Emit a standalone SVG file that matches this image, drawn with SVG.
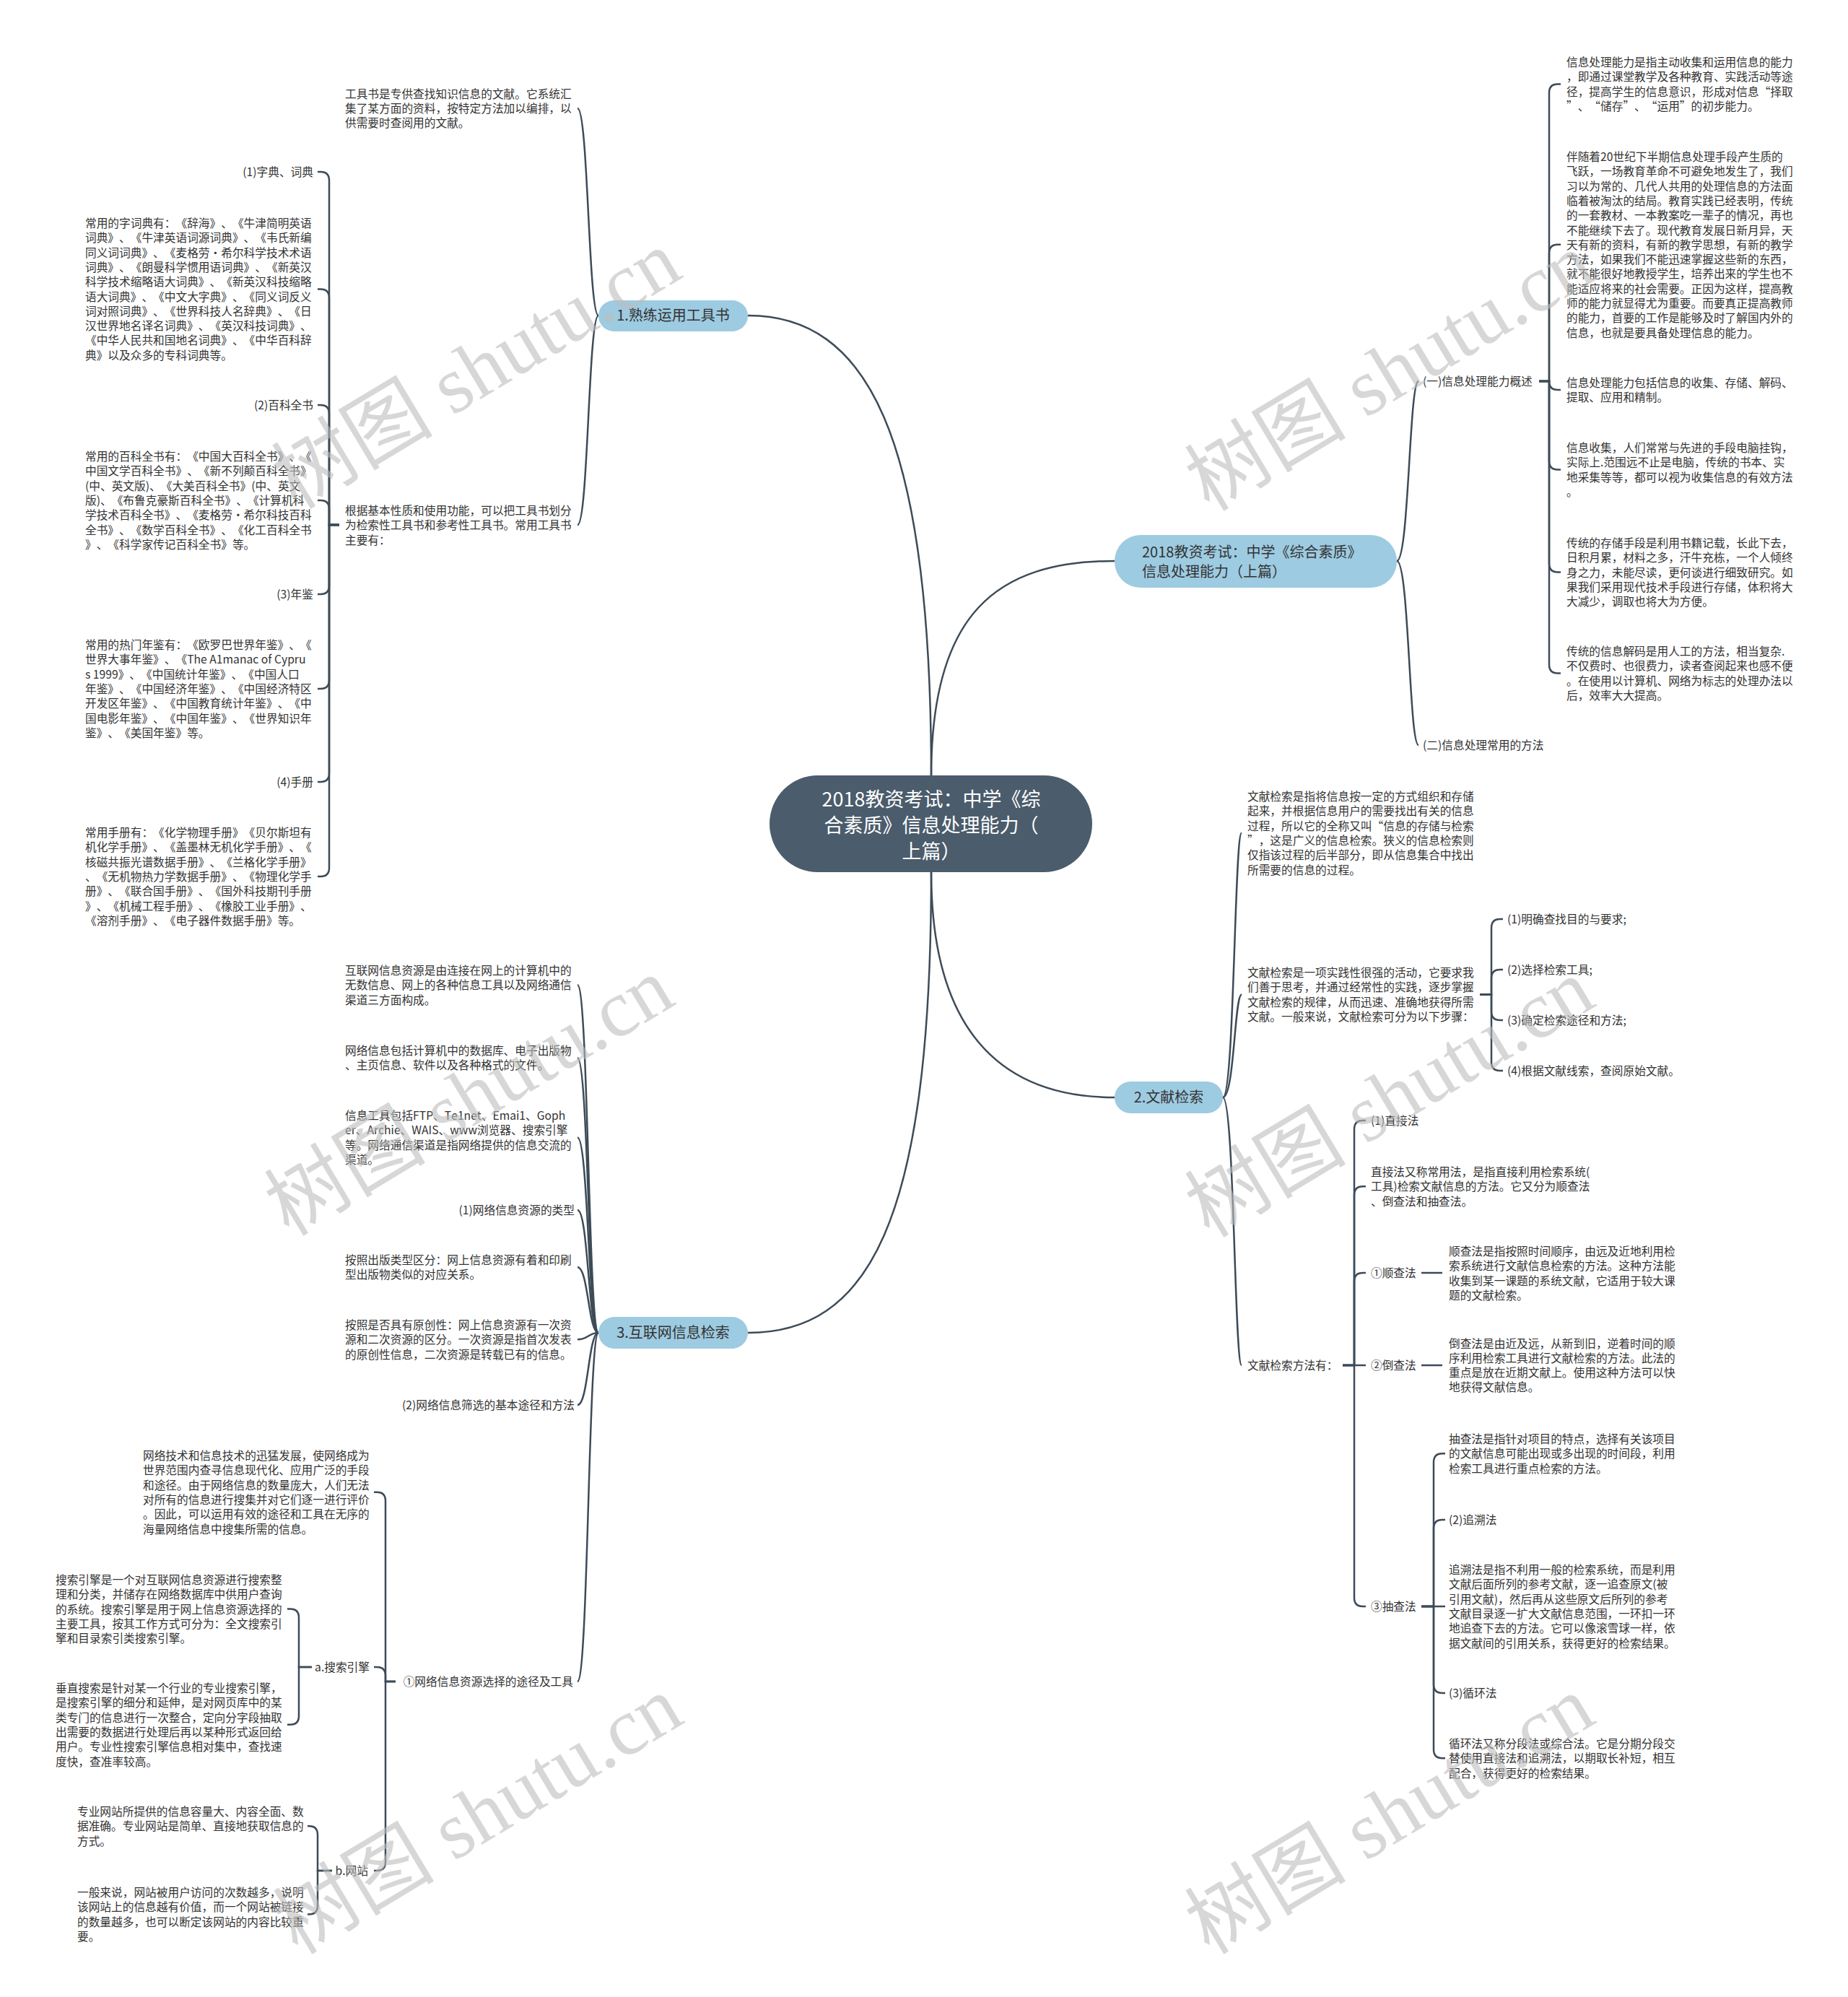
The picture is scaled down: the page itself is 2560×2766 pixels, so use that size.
<svg xmlns="http://www.w3.org/2000/svg" width="2560" height="2766" viewBox="0 0 2560 2766">
<style>
text{text-spacing-trim:space-all;font-kerning:none}
.t{font-family:"Noto Sans CJK SC","Noto Sans",sans-serif;font-size:15.7px;fill:#333;font-feature-settings:"chws" 0,"halt" 0,"palt" 0}
.r{text-anchor:end}
.bt{font-family:"Noto Sans CJK SC","Noto Sans",sans-serif;font-size:20px;fill:#333;font-feature-settings:"chws" 0}
.ct{font-family:"Noto Sans CJK SC","Noto Sans",sans-serif;font-size:27px;fill:#fff;text-anchor:middle;font-feature-settings:"chws" 0}
.ln{fill:none;stroke:#3d4b58;stroke-width:2.5}
.bn{fill:#9dcbe1}
.wm{font-family:"Liberation Serif","Noto Sans CJK SC",serif;font-size:112px;fill:#bdbdbd;fill-opacity:0.6;text-anchor:middle}
</style>
<rect width="2560" height="2766" fill="#fff"/>
<g id="connectors">
<path class="ln" d="M1290,1074 C1290,600 1200,437 1036,437"/>
<path class="ln" d="M1290,1074 C1290,850 1380,777 1544,777"/>
<path class="ln" d="M1290,1208 C1290,1420 1380,1520 1544,1520"/>
<path class="ln" d="M1290,1208 C1290,1700 1200,1846 1036,1846"/>
<path class="ln" d="M829,437 C815,437 815,150 800,150"/>
<path class="ln" d="M829,437 C815,437 815,727 800,727"/>
<path class="ln" d="M470,727 H456 V250 Q456,238 444,238 H440"/>
<path class="ln" d="M470,727 H456 V412.4 Q456,400.4 444,400.4 H440"/>
<path class="ln" d="M470,727 H456 V573 Q456,561 444,561 H440"/>
<path class="ln" d="M470,727 H456 V704.9 Q456,692.9 444,692.9 H440"/>
<path class="ln" d="M470,727 H456 V811 Q456,823 444,823 H440"/>
<path class="ln" d="M470,727 H456 V941.9 Q456,953.9 444,953.9 H440"/>
<path class="ln" d="M470,727 H456 V1071 Q456,1083 444,1083 H440"/>
<path class="ln" d="M470,727 H456 V1201.9 Q456,1213.9 444,1213.9 H440"/>
<path class="ln" d="M829,1846 C815,1846 815,1364.3 800,1364.3"/>
<path class="ln" d="M829,1846 C815,1846 815,1465.2 800,1465.2"/>
<path class="ln" d="M829,1846 C815,1846 815,1575.5 800,1575.5"/>
<path class="ln" d="M829,1846 C815,1846 815,1676 800,1676"/>
<path class="ln" d="M829,1846 C815,1846 815,1755.2 800,1755.2"/>
<path class="ln" d="M829,1846 C815,1846 815,1855.3 800,1855.3"/>
<path class="ln" d="M829,1846 C815,1846 815,1946 800,1946"/>
<path class="ln" d="M829,1846 C815,1846 815,2329 800,2329"/>
<path class="ln" d="M548,2329 H534 V2078.8 Q534,2066.8 522,2066.8 H518"/>
<path class="ln" d="M548,2329 H534 V2321 Q534,2309 522,2309 H518"/>
<path class="ln" d="M548,2329 H534 V2579 Q534,2591 522,2591 H518"/>
<path class="ln" d="M432,2309 H414 V2240.6 Q414,2228.6 402,2228.6 H398"/>
<path class="ln" d="M432,2309 H414 V2376.8 Q414,2388.8 402,2388.8 H398"/>
<path class="ln" d="M460,2591 H440 V2541.3 Q440,2529.3 428,2529.3 H426"/>
<path class="ln" d="M460,2591 H440 V2639.5 Q440,2651.5 428,2651.5 H426"/>
<path class="ln" d="M1935,777 C1952,777 1952,528 1965,528"/>
<path class="ln" d="M1935,777 C1952,777 1952,1032 1965,1032"/>
<path class="ln" d="M2132,528 H2146 V128.5 Q2146,116.5 2158,116.5 H2162"/>
<path class="ln" d="M2132,528 H2146 V350.8 Q2146,338.8 2158,338.8 H2162"/>
<path class="ln" d="M2132,528 H2146 Q2146,540 2158,540 H2162"/>
<path class="ln" d="M2132,528 H2146 V638.5 Q2146,650.5 2158,650.5 H2162"/>
<path class="ln" d="M2132,528 H2146 V780.6 Q2146,792.6 2158,792.6 H2162"/>
<path class="ln" d="M2132,528 H2146 V920.5 Q2146,932.5 2158,932.5 H2162"/>
<path class="ln" d="M1694,1520 C1710,1520 1710,1153.8 1720,1153.8"/>
<path class="ln" d="M1694,1520 C1710,1520 1710,1377.5 1720,1377.5"/>
<path class="ln" d="M1694,1520 C1710,1520 1710,1891 1720,1891"/>
<path class="ln" d="M2050,1377.5 H2066 V1285 Q2066,1273 2078,1273 H2082"/>
<path class="ln" d="M2050,1377.5 H2066 V1355 Q2066,1343 2078,1343 H2082"/>
<path class="ln" d="M2050,1377.5 H2066 V1401 Q2066,1413 2078,1413 H2082"/>
<path class="ln" d="M2050,1377.5 H2066 V1471 Q2066,1483 2078,1483 H2082"/>
<path class="ln" d="M1860,1891 H1876 V1564 Q1876,1552 1888,1552 H1892"/>
<path class="ln" d="M1860,1891 H1876 V1655.3 Q1876,1643.3 1888,1643.3 H1892"/>
<path class="ln" d="M1860,1891 H1876 V1775 Q1876,1763 1888,1763 H1892"/>
<path class="ln" d="M1860,1891 H1892"/>
<path class="ln" d="M1860,1891 H1876 V2213 Q1876,2225 1888,2225 H1892"/>
<path class="ln" d="M1969,1763 H1998"/>
<path class="ln" d="M1969,1891 H1998"/>
<path class="ln" d="M1969,2225 H1986 V2025.3 Q1986,2013.3 1998,2013.3 H2002"/>
<path class="ln" d="M1969,2225 H1986 V2117 Q1986,2105 1998,2105 H2002"/>
<path class="ln" d="M1969,2225 H2002"/>
<path class="ln" d="M1969,2225 H1986 V2333 Q1986,2345 1998,2345 H2002"/>
<path class="ln" d="M1969,2225 H1986 V2423.3 Q1986,2435.3 1998,2435.3 H2002"/>
</g>
<g id="center">
<rect x="1066" y="1074" width="447" height="134" rx="67" fill="#4b5c6c"/>
<text class="ct" x="1290" y="1117">2018教资考试：中学《综<tspan x="1290" dy="36">合素质》信息处理能力（</tspan><tspan x="1290" dy="36">上篇）</tspan></text>
</g>
<g id="b1">
<rect class="bn" x="829" y="416" width="207" height="43" rx="21.5"/>
<text class="bt" x="932.5" y="444" text-anchor="middle">1.熟练运用工具书</text>
</g>
<g id="b1-a"><text class="t" x="478" y="135.5">工具书是专供查找知识信息的文献。它系统汇<tspan x="478" dy="20.3">集了某方面的资料，按特定方法加以编排，以</tspan><tspan x="478" dy="20.3">供需要时查阅用的文献。</tspan></text></g>
<g id="b1-b"><text class="t" x="478" y="713">根据基本性质和使用功能，可以把工具书划分<tspan x="478" dy="20.3">为检索性工具书和参考性工具书。常用工具书</tspan><tspan x="478" dy="20.3">主要有：</tspan></text></g>
<g id="b1-b1"><text class="t r" x="434" y="244">(1)字典、词典</text></g>
<g id="b1-b2"><text class="t" x="118" y="315">常用的字词典有：《辞海》、《牛津简明英语<tspan x="118" dy="20.3">词典》、《牛津英语词源词典》、《韦氏新编</tspan><tspan x="118" dy="20.3">同义词词典》、《麦格劳•希尔科学技术术语</tspan><tspan x="118" dy="20.3">词典》、《朗曼科学惯用语词典》、《新英汉</tspan><tspan x="118" dy="20.3">科学技术缩略语大词典》、《新英汉科技缩略</tspan><tspan x="118" dy="20.3">语大词典》、《中文大字典》、《同义词反义</tspan><tspan x="118" dy="20.3">词对照词典》、《世界科技人名辞典》、《日</tspan><tspan x="118" dy="20.3">汉世界地名译名词典》、《英汉科技词典》、</tspan><tspan x="118" dy="20.3">《中华人民共和国地名词典》、《中华百科辞</tspan><tspan x="118" dy="20.3">典》以及众多的专科词典等。</tspan></text></g>
<g id="b1-b3"><text class="t r" x="434" y="567">(2)百科全书</text></g>
<g id="b1-b4"><text class="t" x="118" y="638">常用的百科全书有：《中国大百科全书》、《<tspan x="118" dy="20.3">中国文学百科全书》、《新不列颠百科全书》</tspan><tspan x="118" dy="20.3">(中、英文版)、《大美百科全书》(中、英文</tspan><tspan x="118" dy="20.3">版)、《布鲁克豪斯百科全书》、《计算机科</tspan><tspan x="118" dy="20.3">学技术百科全书》、《麦格劳•希尔科技百科</tspan><tspan x="118" dy="20.3">全书》、《数学百科全书》、《化工百科全书</tspan><tspan x="118" dy="20.3">》、《科学家传记百科全书》等。</tspan></text></g>
<g id="b1-b5"><text class="t r" x="434" y="829">(3)年鉴</text></g>
<g id="b1-b6"><text class="t" x="118" y="899">常用的热门年鉴有：《欧罗巴世界年鉴》、《<tspan x="118" dy="20.3">世界大事年鉴》、《The A1manac of Cypru</tspan><tspan x="118" dy="20.3">s 1999》、《中国统计年鉴》、《中国人口</tspan><tspan x="118" dy="20.3">年鉴》、《中国经济年鉴》、《中国经济特区</tspan><tspan x="118" dy="20.3">开发区年鉴》、《中国教育统计年鉴》、《中</tspan><tspan x="118" dy="20.3">国电影年鉴》、《中国年鉴》、《世界知识年</tspan><tspan x="118" dy="20.3">鉴》、《美国年鉴》等。</tspan></text></g>
<g id="b1-b7"><text class="t r" x="434" y="1089">(4)手册</text></g>
<g id="b1-b8"><text class="t" x="118" y="1159">常用手册有：《化学物理手册》《贝尔斯坦有<tspan x="118" dy="20.3">机化学手册》、《盖墨林无机化学手册》、《</tspan><tspan x="118" dy="20.3">核磁共振光谱数据手册》、《兰格化学手册》</tspan><tspan x="118" dy="20.3">、《无机物热力学数据手册》、《物理化学手</tspan><tspan x="118" dy="20.3">册》、《联合国手册》、《国外科技期刊手册</tspan><tspan x="118" dy="20.3">》、《机械工程手册》、《橡胶工业手册》、</tspan><tspan x="118" dy="20.3">《溶剂手册》、《电子器件数据手册》等。</tspan></text></g>
<g id="b3">
<rect class="bn" x="829" y="1824" width="207" height="44" rx="22"/>
<text class="bt" x="932.5" y="1853" text-anchor="middle">3.互联网信息检索</text>
</g>
<g id="b3-1"><text class="t" x="478" y="1350">互联网信息资源是由连接在网上的计算机中的<tspan x="478" dy="20.3">无数信息、网上的各种信息工具以及网络通信</tspan><tspan x="478" dy="20.3">渠道三方面构成。</tspan></text></g>
<g id="b3-2"><text class="t" x="478" y="1461">网络信息包括计算机中的数据库、电子出版物<tspan x="478" dy="20.3">、主页信息、软件以及各种格式的文件。</tspan></text></g>
<g id="b3-3"><text class="t" x="478" y="1551">信息工具包括FTP、Te1net、Emai1、Goph<tspan x="478" dy="20.3">er、Archie、WAIS、www浏览器、搜索引擎</tspan><tspan x="478" dy="20.3">等。网络通信渠道是指网络提供的信息交流的</tspan><tspan x="478" dy="20.3">渠道。</tspan></text></g>
<g id="b3-4"><text class="t r" x="796" y="1682">(1)网络信息资源的类型</text></g>
<g id="b3-5"><text class="t" x="478" y="1751">按照出版类型区分：网上信息资源有着和印刷<tspan x="478" dy="20.3">型出版物类似的对应关系。</tspan></text></g>
<g id="b3-6"><text class="t" x="478" y="1841">按照是否具有原创性：网上信息资源有一次资<tspan x="478" dy="20.3">源和二次资源的区分。一次资源是指首次发表</tspan><tspan x="478" dy="20.3">的原创性信息，二次资源是转载已有的信息。</tspan></text></g>
<g id="b3-7"><text class="t r" x="796" y="1952">(2)网络信息筛选的基本途径和方法</text></g>
<g id="b3-8"><text class="t r" x="794" y="2335">①网络信息资源选择的途径及工具</text></g>
<g id="b3-8a"><text class="t" x="198" y="2022">网络技术和信息技术的迅猛发展，使网络成为<tspan x="198" dy="20.3">世界范围内查寻信息现代化、应用广泛的手段</tspan><tspan x="198" dy="20.3">和途径。由于网络信息的数量庞大，人们无法</tspan><tspan x="198" dy="20.3">对所有的信息进行搜集并对它们逐一进行评价</tspan><tspan x="198" dy="20.3">。因此，可以运用有效的途径和工具在无序的</tspan><tspan x="198" dy="20.3">海量网络信息中搜集所需的信息。</tspan></text></g>
<g id="b3-8b"><text class="t r" x="512" y="2315">a.搜索引擎</text></g>
<g id="b3-8b1"><text class="t" x="77" y="2194">搜索引擎是一个对互联网信息资源进行搜索整<tspan x="77" dy="20.3">理和分类，并储存在网络数据库中供用户查询</tspan><tspan x="77" dy="20.3">的系统。搜索引擎是用于网上信息资源选择的</tspan><tspan x="77" dy="20.3">主要工具，按其工作方式可分为：全文搜索引</tspan><tspan x="77" dy="20.3">擎和目录索引类搜索引擎。</tspan></text></g>
<g id="b3-8b2"><text class="t" x="77" y="2344">垂直搜索是针对某一个行业的专业搜索引擎，<tspan x="77" dy="20.3">是搜索引擎的细分和延伸，是对网页库中的某</tspan><tspan x="77" dy="20.3">类专门的信息进行一次整合，定向分字段抽取</tspan><tspan x="77" dy="20.3">出需要的数据进行处理后再以某种形式返回给</tspan><tspan x="77" dy="20.3">用户。专业性搜索引擎信息相对集中，查找速</tspan><tspan x="77" dy="20.3">度快，查准率较高。</tspan></text></g>
<g id="b3-8c"><text class="t r" x="510" y="2597">b.网站</text></g>
<g id="b3-8c1"><text class="t" x="107" y="2515">专业网站所提供的信息容量大、内容全面、数<tspan x="107" dy="20.3">据准确。专业网站是简单、直接地获取信息的</tspan><tspan x="107" dy="20.3">方式。</tspan></text></g>
<g id="b3-8c2"><text class="t" x="107" y="2627">一般来说，网站被用户访问的次数越多，说明<tspan x="107" dy="20.3">该网站上的信息越有价值，而一个网站被链接</tspan><tspan x="107" dy="20.3">的数量越多，也可以断定该网站的内容比较重</tspan><tspan x="107" dy="20.3">要。</tspan></text></g>
<g id="b0">
<rect class="bn" x="1544" y="741" width="391" height="73" rx="36"/>
<text class="bt" x="1582" y="772">2018教资考试：中学《综合素质》<tspan x="1582" dy="27">信息处理能力（上篇）</tspan></text>
</g>
<g id="b0-1"><text class="t" x="1971" y="534">(一)信息处理能力概述</text></g>
<g id="b0-2"><text class="t" x="1971" y="1038">(二)信息处理常用的方法</text></g>
<g id="b0-1a"><text class="t" x="2170" y="92">信息处理能力是指主动收集和运用信息的能力<tspan x="2170" dy="20.3">，即通过课堂教学及各种教育、实践活动等途</tspan><tspan x="2170" dy="20.3">径，提高学生的信息意识，形成对信息“择取</tspan><tspan x="2170" dy="20.3">”、“储存”、“运用”的初步能力。</tspan></text></g>
<g id="b0-1b"><text class="t" x="2170" y="223">伴随着20世纪下半期信息处理手段产生质的<tspan x="2170" dy="20.3">飞跃，一场教育革命不可避免地发生了，我们</tspan><tspan x="2170" dy="20.3">习以为常的、几代人共用的处理信息的方法面</tspan><tspan x="2170" dy="20.3">临着被淘汰的结局。教育实践已经表明，传统</tspan><tspan x="2170" dy="20.3">的一套教材、一本教案吃一辈子的情况，再也</tspan><tspan x="2170" dy="20.3">不能继续下去了。现代教育发展日新月异，天</tspan><tspan x="2170" dy="20.3">天有新的资料，有新的教学思想，有新的教学</tspan><tspan x="2170" dy="20.3">方法，如果我们不能迅速掌握这些新的东西，</tspan><tspan x="2170" dy="20.3">就不能很好地教授学生，培养出来的学生也不</tspan><tspan x="2170" dy="20.3">能适应将来的社会需要。正因为这样，提高教</tspan><tspan x="2170" dy="20.3">师的能力就显得尤为重要。而要真正提高教师</tspan><tspan x="2170" dy="20.3">的能力，首要的工作是能够及时了解国内外的</tspan><tspan x="2170" dy="20.3">信息，也就是要具备处理信息的能力。</tspan></text></g>
<g id="b0-1c"><text class="t" x="2170" y="536">信息处理能力包括信息的收集、存储、解码、<tspan x="2170" dy="20.3">提取、应用和精制。</tspan></text></g>
<g id="b0-1d"><text class="t" x="2170" y="626">信息收集，人们常常与先进的手段电脑挂钩，<tspan x="2170" dy="20.3">实际上.范围远不止是电脑，传统的书本、实</tspan><tspan x="2170" dy="20.3">地采集等等，都可以视为收集信息的有效方法</tspan><tspan x="2170" dy="20.3">。</tspan></text></g>
<g id="b0-1e"><text class="t" x="2170" y="758">传统的存储手段是利用书籍记载，长此下去，<tspan x="2170" dy="20.3">日积月累，材料之多，汗牛充栋，一个人倾终</tspan><tspan x="2170" dy="20.3">身之力，未能尽读，更何谈进行细致研究。如</tspan><tspan x="2170" dy="20.3">果我们采用现代技术手段进行存储，体积将大</tspan><tspan x="2170" dy="20.3">大减少，调取也将大为方便。</tspan></text></g>
<g id="b0-1f"><text class="t" x="2170" y="908">传统的信息解码是用人工的方法，相当复杂.<tspan x="2170" dy="20.3">不仅费时、也很费力，读者查阅起来也感不便</tspan><tspan x="2170" dy="20.3">。在使用以计算机、网络为标志的处理办法以</tspan><tspan x="2170" dy="20.3">后，效率大大提高。</tspan></text></g>
<g id="b2">
<rect class="bn" x="1544" y="1498" width="150" height="44" rx="22"/>
<text class="bt" x="1619" y="1527" text-anchor="middle">2.文献检索</text>
</g>
<g id="b2-1"><text class="t" x="1728" y="1109">文献检索是指将信息按一定的方式组织和存储<tspan x="1728" dy="20.3">起来，并根据信息用户的需要找出有关的信息</tspan><tspan x="1728" dy="20.3">过程，所以它的全称又叫“信息的存储与检索</tspan><tspan x="1728" dy="20.3">”，这是广义的信息检索。狭义的信息检索则</tspan><tspan x="1728" dy="20.3">仅指该过程的后半部分，即从信息集合中找出</tspan><tspan x="1728" dy="20.3">所需要的信息的过程。</tspan></text></g>
<g id="b2-2"><text class="t" x="1728" y="1353">文献检索是一项实践性很强的活动，它要求我<tspan x="1728" dy="20.3">们善于思考，并通过经常性的实践，逐步掌握</tspan><tspan x="1728" dy="20.3">文献检索的规律，从而迅速、准确地获得所需</tspan><tspan x="1728" dy="20.3">文献。一般来说，文献检索可分为以下步骤：</tspan></text></g>
<g id="b2-2a"><text class="t" x="2088" y="1279">(1)明确查找目的与要求;</text></g>
<g id="b2-2b"><text class="t" x="2088" y="1349">(2)选择检索工具;</text></g>
<g id="b2-2c"><text class="t" x="2088" y="1419">(3)确定检索途径和方法;</text></g>
<g id="b2-2d"><text class="t" x="2088" y="1489">(4)根据文献线索，查阅原始文献。</text></g>
<g id="b2-3"><text class="t" x="1728" y="1897">文献检索方法有：</text></g>
<g id="b2-3a"><text class="t" x="1899" y="1558">(1)直接法</text></g>
<g id="b2-3b"><text class="t" x="1899" y="1629">直接法又称常用法，是指直接利用检索系统(<tspan x="1899" dy="20.3">工具)检索文献信息的方法。它又分为顺查法</tspan><tspan x="1899" dy="20.3">、倒查法和抽查法。</tspan></text></g>
<g id="b2-3c"><text class="t" x="1899" y="1769">①顺查法</text></g>
<g id="b2-3c1"><text class="t" x="2007" y="1739">顺查法是指按照时间顺序，由远及近地利用检<tspan x="2007" dy="20.3">索系统进行文献信息检索的方法。这种方法能</tspan><tspan x="2007" dy="20.3">收集到某一课题的系统文献，它适用于较大课</tspan><tspan x="2007" dy="20.3">题的文献检索。</tspan></text></g>
<g id="b2-3d"><text class="t" x="1899" y="1897">②倒查法</text></g>
<g id="b2-3d1"><text class="t" x="2007" y="1866.5">倒查法是由近及远，从新到旧，逆着时间的顺<tspan x="2007" dy="20.3">序利用检索工具进行文献检索的方法。此法的</tspan><tspan x="2007" dy="20.3">重点是放在近期文献上。使用这种方法可以快</tspan><tspan x="2007" dy="20.3">地获得文献信息。</tspan></text></g>
<g id="b2-3e"><text class="t" x="1899" y="2231">③抽查法</text></g>
<g id="b2-3e1"><text class="t" x="2007" y="1999">抽查法是指针对项目的特点，选择有关该项目<tspan x="2007" dy="20.3">的文献信息可能出现或多出现的时间段，利用</tspan><tspan x="2007" dy="20.3">检索工具进行重点检索的方法。</tspan></text></g>
<g id="b2-3e2"><text class="t" x="2007" y="2111">(2)追溯法</text></g>
<g id="b2-3e3"><text class="t" x="2007" y="2180">追溯法是指不利用一般的检索系统，而是利用<tspan x="2007" dy="20.3">文献后面所列的参考文献，逐一追查原文(被</tspan><tspan x="2007" dy="20.3">引用文献)，然后再从这些原文后所列的参考</tspan><tspan x="2007" dy="20.3">文献目录逐一扩大文献信息范围，一环扣一环</tspan><tspan x="2007" dy="20.3">地追查下去的方法。它可以像滚雪球一样，依</tspan><tspan x="2007" dy="20.3">据文献间的引用关系，获得更好的检索结果。</tspan></text></g>
<g id="b2-3e4"><text class="t" x="2007" y="2351">(3)循环法</text></g>
<g id="b2-3e5"><text class="t" x="2007" y="2421">循环法又称分段法或综合法。它是分期分段交<tspan x="2007" dy="20.3">替使用直接法和追溯法，以期取长补短，相互</tspan><tspan x="2007" dy="20.3">配合，获得更好的检索结果。</tspan></text></g>
<g id="watermarks">
<text class="wm" transform="translate(660,512) rotate(-31)" dy="38">树图 shutu.cn</text>
<text class="wm" transform="translate(1925,515) rotate(-31)" dy="38">树图 shutu.cn</text>
<text class="wm" transform="translate(650,1519) rotate(-31)" dy="38">树图 shutu.cn</text>
<text class="wm" transform="translate(1925,1521) rotate(-31)" dy="38">树图 shutu.cn</text>
<text class="wm" transform="translate(662,2514) rotate(-31)" dy="38">树图 shutu.cn</text>
<text class="wm" transform="translate(1925,2514) rotate(-31)" dy="38">树图 shutu.cn</text>
</g>
</svg>
